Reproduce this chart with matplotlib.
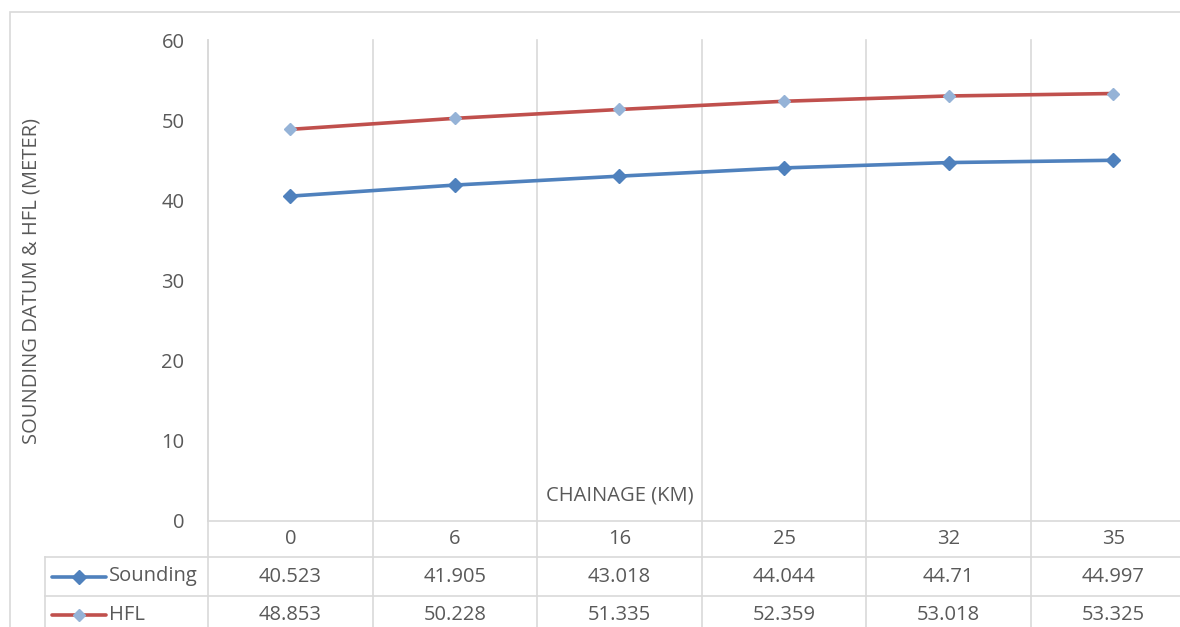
import numpy as np
import matplotlib
matplotlib.use('Agg')
import matplotlib.pyplot as plt
from matplotlib.patches import Rectangle

# chainage stations and levels
chainage = ['0', '6', '16', '25', '32', '35']
sounding = [40.523, 41.905, 43.018, 44.044, 44.71, 44.997]
hfl = [48.853, 50.228, 51.335, 52.359, 53.018, 53.325]
sounding_txt = ['40.523', '41.905', '43.018', '44.044', '44.71', '44.997']
hfl_txt = ['48.853', '50.228', '51.335', '52.359', '53.018', '53.325']

plt.rcParams['font.family'] = ['Open Sans', 'DejaVu Sans']
txt_col = '#595959'
grid_col = '#D9D9D9'
blue = '#4F81BD'
red = '#C0504D'
light_blue = '#95B3D7'
fs = 14.5

W, H = 1180, 627
fig = plt.figure(figsize=(W / 100, H / 100), dpi=100)

# plot area in pixels: left 208, top 40, bottom 521, 164.6 px per category
cat_w = 164.6
left, top, bottom = 208, 40, 521
ax = fig.add_axes([left / W, (H - bottom) / H, 6 * cat_w / W, (bottom - top) / H])

x = np.arange(len(chainage))
ax.plot(x, sounding, color=blue, lw=2.6, marker='D', ms=7, mfc=blue, mec=blue,
        solid_capstyle='round', zorder=3)
ax.plot(x, hfl, color=red, lw=2.6, marker='D', ms=6, mfc=light_blue, mec=light_blue,
        solid_capstyle='round', zorder=3)

ax.set_xlim(-0.5, 5.5)
ax.set_ylim(0, 60)
ax.set_yticks(range(0, 61, 10))
ax.set_xticks([])
ax.tick_params(axis='y', length=0, pad=17, labelsize=fs, labelcolor=txt_col)
for s in ['top', 'right']:
    ax.spines[s].set_visible(False)
ax.spines['left'].set_color(grid_col)
ax.spines['bottom'].set_color(grid_col)
ax.spines['left'].set_linewidth(1.2)
ax.spines['bottom'].set_linewidth(1.2)

# vertical gridlines between categories, carried down through the table
tr = ax.get_xaxis_transform()
row_edges = [0, -(557 - bottom) / (bottom - top), -(596 - bottom) / (bottom - top),
             -(640 - bottom) / (bottom - top)]
for b in np.arange(-0.5, 6.0, 1.0):
    ax.plot([b, b], [1, row_edges[-1]], color=grid_col, lw=1.2, transform=tr,
            clip_on=False, zorder=1)

ax.set_ylabel('SOUNDING DATUM & HFL (METER)', fontsize=fs, color=txt_col)
ax.yaxis.set_label_coords(-166 / (6 * cat_w), 0.5)

ax.text(2, 0.054, 'CHAINAGE (KM)', transform=tr, ha='center', va='center',
        fontsize=fs, color=txt_col)

# data table under the axis
tbl_left = (45 - left) / cat_w - 0.5
for y in row_edges[1:3]:
    ax.plot([tbl_left, 5.5], [y, y], color=grid_col, lw=1.2, transform=tr, clip_on=False)
ax.plot([tbl_left, tbl_left], [row_edges[1], row_edges[-1]], color=grid_col, lw=1.2,
        transform=tr, clip_on=False)

mids = [(row_edges[i] + row_edges[i + 1]) / 2 for i in range(3)]
mids[2] = -(615 - bottom) / (bottom - top)
for i, c in enumerate(chainage):
    ax.text(i, mids[0], c, transform=tr, ha='center', va='center', fontsize=fs, color=txt_col)
    ax.text(i, mids[1], sounding_txt[i], transform=tr, ha='center', va='center',
            fontsize=fs, color=txt_col)
    ax.text(i, mids[2], hfl_txt[i], transform=tr, ha='center', va='center',
            fontsize=fs, color=txt_col)

# legend keys inside the table
kx0 = (52 - left) / cat_w - 0.5
kx1 = (106 - left) / cat_w - 0.5
kxm = (kx0 + kx1) / 2
ax.plot([kx0, kx1], [mids[1]] * 2, color=blue, lw=2.6, transform=tr, clip_on=False,
        solid_capstyle='round')
ax.plot([kxm], [mids[1]], marker='D', ms=7, color=blue, transform=tr, clip_on=False)
ax.plot([kx0, kx1], [mids[2]] * 2, color=red, lw=2.6, transform=tr, clip_on=False,
        solid_capstyle='round')
ax.plot([kxm], [mids[2]], marker='D', ms=6, color=light_blue, transform=tr, clip_on=False)
ax.text(kx1 + 0.02, mids[1], 'Sounding', transform=tr, ha='left', va='center',
        fontsize=fs, color=txt_col)
ax.text(kx1 + 0.02, mids[2], 'HFL', transform=tr, ha='left', va='center',
        fontsize=fs, color=txt_col)

# chart border
fig.patches.append(Rectangle((10 / W, -0.1), 1.2, 1 - 12 / H + 0.1,
                             transform=fig.transFigure, fill=False,
                             ec=grid_col, lw=1.2))

fig.savefig('out.png', dpi=100)
